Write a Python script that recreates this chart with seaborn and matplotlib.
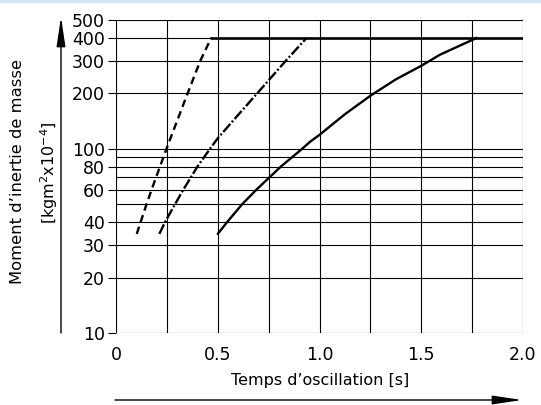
import numpy as np
import pandas as pd
import matplotlib
matplotlib.use("Agg")
import matplotlib.pyplot as plt
import seaborn as sns
from matplotlib.patches import Rectangle

# ---- data ----
dashed_x = [0.102, 0.121, 0.150, 0.175, 0.216, 0.248, 0.352, 0.414, 0.468]
dashed_y = [34.5, 40, 50, 60, 80, 100, 200, 300, 400]
dashdot_x = [0.213, 0.241, 0.290, 0.331, 0.400, 0.462, 0.50, 0.58, 0.694, 0.834, 0.937]
dashdot_y = [34.5, 40, 50, 60, 80, 100, 114, 144, 200, 300, 400]
solid_x = [0.50, 0.546, 0.62, 0.69, 0.81, 0.915, 0.953, 1.0, 1.125, 1.25, 1.375, 1.5, 1.592, 1.773]
solid_y = [34.5, 40, 50, 60, 80, 100, 109, 119, 154, 194, 238, 282, 324, 400]
plateau_x = [0.468, 2.0]
plateau_y = [400, 400]

ytick_vals = [10, 20, 30, 40, 60, 80, 100, 200, 300, 400, 500]
ygrid_vals = [10, 20, 30, 40, 50, 60, 70, 80, 90, 100, 200, 300, 400, 500]
xtick_vals = [0, 0.5, 1.0, 1.5, 2.0]
xtick_labels = ["0", "0.5", "1.0", "1.5", "2.0"]
xgrid_vals = [0, 0.25, 0.5, 0.75, 1.0, 1.25, 1.5, 1.75, 2.0]

sns.set_style("white")
plt.rcParams['font.family'] = ['DejaVu Sans']
plt.rcParams['text.color'] = 'black'
plt.rcParams['xtick.color'] = 'black'
plt.rcParams['ytick.color'] = 'black'

W, H = 541, 405
fig = plt.figure(figsize=(W / 100, H / 100), dpi=100)
ax = fig.add_axes([116 / W, (H - 333) / H, (523 - 116) / W, (333 - 20) / H])

# grid lines
for gy in ygrid_vals:
    ax.axhline(gy, color="black", lw=0.8, zorder=1)
for gx in xgrid_vals:
    ax.axvline(gx, color="black", lw=0.8, zorder=1)

df_dash = pd.DataFrame({"t": dashed_x, "J": dashed_y})
df_dd = pd.DataFrame({"t": dashdot_x, "J": dashdot_y})
df_solid = pd.DataFrame({"t": solid_x, "J": solid_y})
df_plat = pd.DataFrame({"t": plateau_x, "J": plateau_y})

lw = 1.7
sns.lineplot(data=df_dash, x="t", y="J", ax=ax, color="black", lw=lw,
             sort=False, estimator=None, linestyle=(0, (3.2, 2.0)), zorder=3)
sns.lineplot(data=df_dd, x="t", y="J", ax=ax, color="black", lw=lw,
             sort=False, estimator=None, linestyle=(0, (4.5, 1.0, 0.8, 1.0)), zorder=3)
sns.lineplot(data=df_solid, x="t", y="J", ax=ax, color="black", lw=lw,
             sort=False, estimator=None, zorder=3)
sns.lineplot(data=df_plat, x="t", y="J", ax=ax, color="black", lw=1.9,
             sort=False, estimator=None, zorder=3)

ax.set_yscale("log")
ax.set_xlim(0, 2.0)
ax.set_ylim(10, 500)
ax.set_yticks(ytick_vals)
ax.set_yticklabels([str(v) for v in ytick_vals])
ax.yaxis.set_minor_locator(matplotlib.ticker.NullLocator())
ax.set_xticks(xtick_vals)
ax.set_xticklabels(xtick_labels)
ax.tick_params(axis="y", which="major", length=6, width=0.8, color="black",
               direction="out", pad=2, labelsize=12.5, left=True, labelcolor="black")
ax.tick_params(axis="x", which="major", length=0, pad=9, labelsize=12.5,
               labelcolor="black")
ax.set_xlabel("")
ax.set_ylabel("")
for s in ax.spines.values():
    s.set_visible(False)

# axis labels
fig.text(18 / W, (H - 172) / H, "Moment d\u2019inertie de masse", rotation=90,
         ha="center", va="center", fontsize=11.8, color="black")
fig.text(49 / W, (H - 173) / H, "[kgm$^2$x10$^{-4}$]", rotation=90,
         ha="center", va="center", fontsize=11.5, color="black")
fig.text(320 / W, (H - 380) / H, "Temps d\u2019oscillation [s]",
         ha="center", va="center", fontsize=11.5, color="black")

# arrows
ax.annotate("", xy=(61, H - 17), xytext=(61, H - 333), xycoords="figure pixels",
            textcoords="figure pixels",
            arrowprops=dict(arrowstyle="-|>,head_length=1.8,head_width=0.27",
                            mutation_scale=10, lw=1.0, color="black",
                            shrinkA=0, shrinkB=0))
ax.annotate("", xy=(522, H - 400), xytext=(115, H - 400), xycoords="figure pixels",
            textcoords="figure pixels",
            arrowprops=dict(arrowstyle="-|>,head_length=1.8,head_width=0.27",
                            mutation_scale=10, lw=1.0, color="black",
                            shrinkA=0, shrinkB=0))

# light blue band at top
fig.add_artist(Rectangle((0, 1 - 3 / H), 1, 3 / H, transform=fig.transFigure,
                         color="#d3e7f3", lw=0))

fig.savefig("out.png", dpi=100)
